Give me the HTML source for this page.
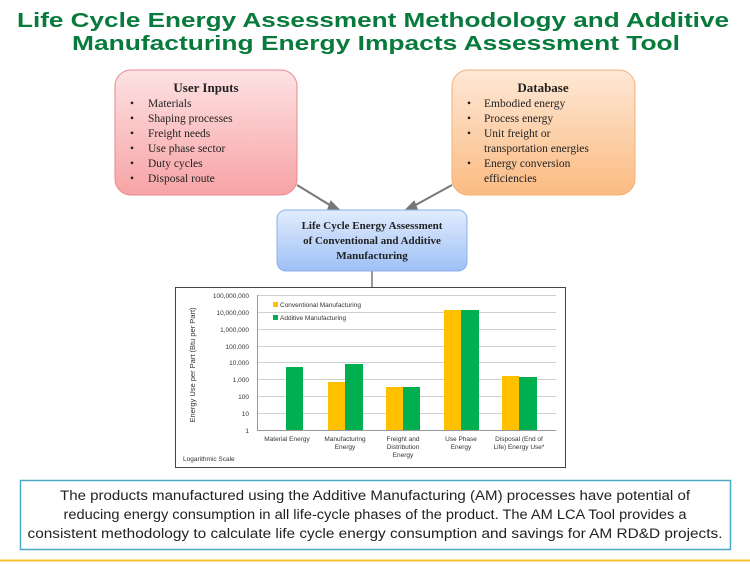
<!DOCTYPE html>
<html><head><meta charset="utf-8"><style>body{margin:0;background:#fff}svg{display:block}</style></head><body>
<svg width="750" height="564" xmlns="http://www.w3.org/2000/svg" font-family="Liberation Sans, sans-serif">
<defs>
<linearGradient id="gp" x1="0" y1="0" x2="0" y2="1"><stop offset="0" stop-color="#fde2e3"/><stop offset="1" stop-color="#f7a3a5"/></linearGradient>
<linearGradient id="go" x1="0" y1="0" x2="0" y2="1"><stop offset="0" stop-color="#fee8d6"/><stop offset="1" stop-color="#fbbb82"/></linearGradient>
<linearGradient id="gb" x1="0" y1="0" x2="0" y2="1"><stop offset="0" stop-color="#e2ecfd"/><stop offset="1" stop-color="#9ec0f6"/></linearGradient>
</defs>
<g fill="#077a3c" font-weight="bold" font-size="20">
<text x="17" y="27" textLength="712" lengthAdjust="spacingAndGlyphs">Life Cycle Energy Assessment Methodology and Additive</text>
<text x="72" y="50" textLength="608" lengthAdjust="spacingAndGlyphs">Manufacturing Energy Impacts Assessment Tool</text>
</g>
<g stroke="#777" stroke-width="2" fill="#777">
<line x1="297" y1="185" x2="333" y2="207"/><polygon points="331,202 341,212 328,210"/>
<line x1="452" y1="185" x2="412" y2="207"/><polygon points="414,202 404,212 417,210"/>
<line x1="372" y1="271" x2="372" y2="287" stroke="#999"/>
</g>
<rect x="115" y="70" width="182" height="125" rx="16" fill="url(#gp)" stroke="#e58a8c"/>
<rect x="452" y="70" width="183" height="125" rx="16" fill="url(#go)" stroke="#f2b07a"/>
<rect x="277" y="210" width="190" height="61" rx="9" fill="url(#gb)" stroke="#8ab0e8"/>
<g font-family="Liberation Serif, serif" fill="#222" font-size="11.5">
<text x="206" y="92" text-anchor="middle" font-weight="bold" font-size="13">User Inputs</text>
<text x="130" y="107">•</text><text x="148" y="107">Materials</text>
<text x="130" y="122">•</text><text x="148" y="122">Shaping processes</text>
<text x="130" y="137">•</text><text x="148" y="137">Freight needs</text>
<text x="130" y="152">•</text><text x="148" y="152">Use phase sector</text>
<text x="130" y="167">•</text><text x="148" y="167">Duty cycles</text>
<text x="130" y="182">•</text><text x="148" y="182">Disposal route</text>
<text x="543" y="92" text-anchor="middle" font-weight="bold" font-size="13">Database</text>
<text x="467" y="107">•</text><text x="484" y="107">Embodied energy</text>
<text x="467" y="122">•</text><text x="484" y="122">Process energy</text>
<text x="467" y="137">•</text><text x="484" y="137">Unit freight  or</text>
<text x="484" y="152">transportation energies</text>
<text x="467" y="167">•</text><text x="484" y="167">Energy conversion</text>
<text x="484" y="182">efficiencies</text>
<g font-weight="bold" font-size="11" text-anchor="middle">
<text x="372" y="229">Life Cycle Energy Assessment</text>
<text x="372" y="244">of Conventional and Additive</text>
<text x="372" y="259">Manufacturing</text></g>
</g>
<rect x="175.5" y="287.5" width="390" height="180" fill="#fff" stroke="#444"/>
<g stroke="#d0d0d0" stroke-width="1">
<line x1="257" y1="295.5" x2="556" y2="295.5"/><line x1="257" y1="312.5" x2="556" y2="312.5"/><line x1="257" y1="329.5" x2="556" y2="329.5"/><line x1="257" y1="346.5" x2="556" y2="346.5"/><line x1="257" y1="362.5" x2="556" y2="362.5"/><line x1="257" y1="379.5" x2="556" y2="379.5"/><line x1="257" y1="396.5" x2="556" y2="396.5"/><line x1="257" y1="413.5" x2="556" y2="413.5"/>
</g>
<line x1="257.5" y1="295" x2="257.5" y2="430" stroke="#999"/>
<line x1="257" y1="430.5" x2="556" y2="430.5" stroke="#999"/>
<g fill="#00b050"><rect x="286" y="367" width="17" height="63"/><rect x="345" y="364" width="18" height="66"/><rect x="403" y="387" width="17" height="43"/><rect x="461" y="310" width="18" height="120"/><rect x="519" y="377" width="18" height="53"/></g>
<g fill="#ffc000"><rect x="328" y="382" width="17" height="48"/><rect x="386" y="387" width="17" height="43"/><rect x="444" y="310" width="17" height="120"/><rect x="502" y="376" width="17" height="54"/></g>
<rect x="273" y="302" width="5" height="5" fill="#ffc000"/><rect x="273" y="315" width="5" height="5" fill="#00b050"/>
<g font-size="6.5" fill="#333">
<text x="280" y="307">Conventional Manufacturing</text><text x="280" y="320">Additive Manufacturing</text>
<g text-anchor="end"><text x="249" y="298">100,000,000</text><text x="249" y="315">10,000,000</text><text x="249" y="332">1,000,000</text><text x="249" y="349">100,000</text><text x="249" y="365">10,000</text><text x="249" y="382">1,000</text><text x="249" y="399">100</text><text x="249" y="416">10</text><text x="249" y="433">1</text></g>
<g text-anchor="middle"><text x="287" y="441">Material Energy</text>
<text x="345" y="441">Manufacturing</text><text x="345" y="449">Energy</text>
<text x="403" y="441">Freight and</text><text x="403" y="449">Distribution</text><text x="403" y="457">Energy</text>
<text x="461" y="441">Use Phase</text><text x="461" y="449">Energy</text>
<text x="519" y="441">Disposal (End of</text><text x="519" y="449">Life) Energy Use*</text></g>
<text x="183" y="461">Logarithmic Scale</text>
<text transform="translate(195,365) rotate(-90)" text-anchor="middle" font-size="7.5">Energy Use per Part (Btu per Part)</text>
</g>
<rect x="20.5" y="480.5" width="710" height="69" fill="#fff" stroke="#4aaac4" stroke-width="1.5"/>
<g font-size="13.5" fill="#222" text-anchor="middle">
<text x="375" y="500" textLength="630" lengthAdjust="spacingAndGlyphs">The products manufactured using the Additive Manufacturing (AM) processes have potential of</text>
<text x="375" y="519" textLength="623" lengthAdjust="spacingAndGlyphs">reducing energy consumption in all life-cycle phases of the product. The AM LCA Tool provides a</text>
<text x="375" y="538" textLength="695" lengthAdjust="spacingAndGlyphs">consistent methodology to calculate life cycle energy consumption and savings for AM RD&amp;D projects.</text>
</g>
<line x1="0" y1="560.5" x2="750" y2="560.5" stroke="#f5c030" stroke-width="2"/>
</svg>
</body></html>
